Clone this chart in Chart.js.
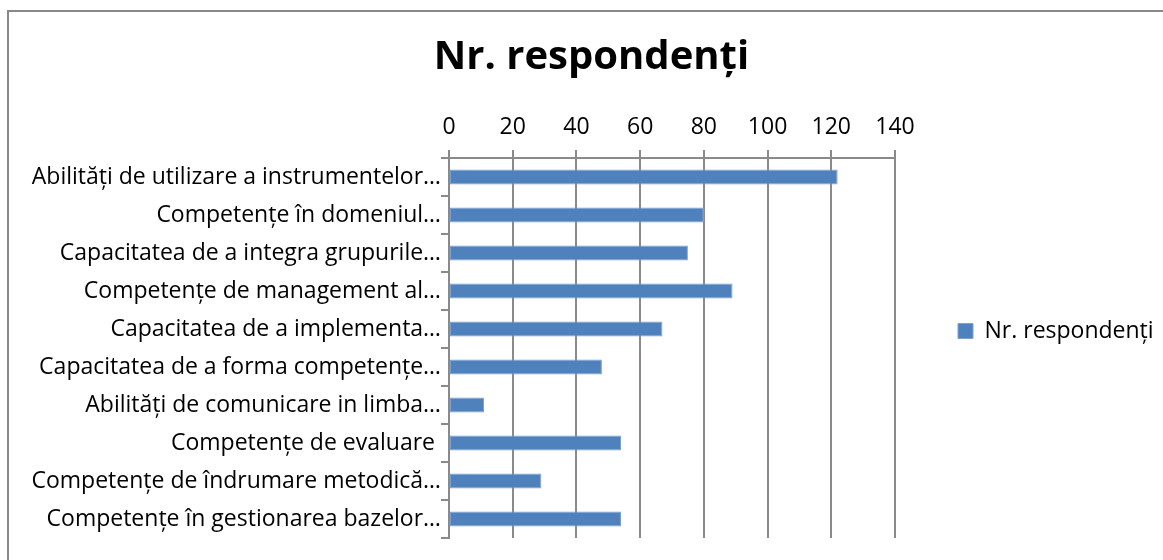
<!DOCTYPE html>
<html lang="ro">
<head>
<meta charset="UTF-8">
<title>Nr. respondenți</title>
<script src="https://cdn.jsdelivr.net/npm/chart.js@4.4.0/dist/chart.umd.min.js"></script>
<style>
  html, body { margin: 0; padding: 0; background: #fff; }
  #wrap { position: relative; width: 1163px; height: 560px; overflow: hidden; }
  #frame { position: absolute; left: 7px; top: 10px; width: 1200px; height: 600px;
           border-left: 2px solid #898989; border-top: 2px solid #898989; box-sizing: border-box; }
  #chart { position: absolute; left: 0; top: 0; }
</style>
</head>
<body>
<div id="wrap">
  <div id="frame"></div>
  <canvas id="chart" width="1163" height="560"></canvas>
</div>
<script>
  // date
  var categorii = [
    'Abilități de utilizare a instrumentelor…',
    'Competențe în domeniul…',
    'Capacitatea de a integra grupurile…',
    'Competențe de management al…',
    'Capacitatea de a implementa…',
    'Capacitatea de a forma competențe…',
    'Abilități de comunicare in limba…',
    'Competențe de evaluare ',
    'Competențe de îndrumare metodică…',
    'Competențe în gestionarea bazelor…'
  ];
  var respondenti = [122, 80, 75, 89, 67, 48, 11, 54, 29, 54];
  var numeSerie = 'Nr. respondenți';

  var gri = '#8a8a8a';
  var font = "'Open Sans', 'Noto Sans', sans-serif";

  // legenda: latime fixa si putin mai sus decat centrul zonei graficului
  var legendaFixa = {
    id: 'legendaFixa',
    beforeLayout: function (chart) {
      var lg = chart.legend;
      if (lg && !lg._fixat) {
        var fit = lg.fit;
        lg.fit = function () { fit.call(this); this.width = 258; };
        lg._fixat = true;
      }
    },
    afterLayout: function (chart) {
      if (chart.legend) { chart.legend.top -= 17; chart.legend.bottom -= 17; }
    }
  };

  new Chart(document.getElementById('chart'), {
    type: 'bar',
    data: {
      labels: categorii,
      datasets: [{
        label: numeSerie,
        data: respondenti,
        backgroundColor: '#4f81bd',
        borderColor: '#7ea1cf',
        borderWidth: 1,
        borderSkipped: false,
        categoryPercentage: 1,
        barPercentage: 0.4
      }]
    },
    options: {
      indexAxis: 'y',
      responsive: false,
      animation: false,
      layout: { padding: { left: 30, right: 10, top: 0, bottom: 22 } },
      plugins: {
        tooltip: { enabled: false },
        title: {
          display: true,
          text: numeSerie,
          color: '#000',
          font: { family: font, size: 40, weight: 'bold' },
          padding: { top: 34, bottom: 31 }
        },
        legend: {
          position: 'right',
          fullSize: false,
          labels: {
            color: '#000',
            font: { family: font, size: 23 },
            boxWidth: 15,
            boxHeight: 15,
            padding: 63
          }
        }
      },
      scales: {
        x: {
          position: 'top',
          min: 0,
          max: 140,
          ticks: { stepSize: 20, color: '#000', font: { family: font, size: 23 }, padding: 9 },
          grid: { color: gri, lineWidth: 2, tickLength: 8 },
          border: { display: true, color: gri, width: 2 },
          afterFit: function (s) { s.height = 45; }
        },
        y: {
          ticks: { color: '#000', font: { family: font, size: 23 }, padding: 0 },
          grid: { offset: true, drawOnChartArea: false, color: gri, lineWidth: 2, tickLength: 8 },
          border: { display: true, color: gri, width: 2 },
          afterFit: function (s) { s.width = 449 - 30; }
        }
      }
    },
    plugins: [legendaFixa]
  });
</script>
</body>
</html>
